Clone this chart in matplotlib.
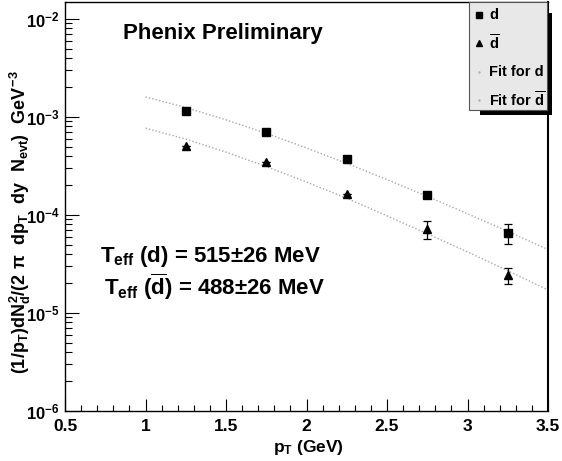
import matplotlib
matplotlib.use("Agg")
import matplotlib.pyplot as plt
from matplotlib.patches import Rectangle
from matplotlib.lines import Line2D
from matplotlib.ticker import LogLocator, NullFormatter, FixedLocator, FixedFormatter, MultipleLocator

plt.rcParams['font.family'] = ['Liberation Sans', 'DejaVu Sans']
plt.rcParams['font.weight'] = 'bold'
plt.rcParams['mathtext.fontset'] = 'custom'
plt.rcParams['mathtext.rm'] = 'Liberation Sans:bold'
plt.rcParams['mathtext.it'] = 'Liberation Sans:bold'
plt.rcParams['mathtext.bf'] = 'Liberation Sans:bold'
plt.rcParams['mathtext.sf'] = 'Liberation Sans:bold'

# ---- data ----
pt = [1.25, 1.75, 2.25, 2.75, 3.25]
d_yield = [1.15e-3, 7.0e-4, 3.73e-4, 1.60e-4, 6.55e-5]
d_err = [0, 0, 0, 0, 1.45e-5]
dbar_yield = [5.06e-4, 3.47e-4, 1.64e-4, 7.2e-5, 2.44e-5]
dbar_err = [0, 0, 0, 1.45e-5, 0.47e-5]

fit_pt = [1.0, 1.25, 1.5, 1.75, 2.0, 2.25, 2.5, 2.75, 3.0, 3.25, 3.5]
fit_d = [1.60e-3, 1.25e-3, 9.36e-4, 6.81e-4, 4.83e-4, 3.36e-4, 2.30e-4,
         1.55e-4, 1.03e-4, 6.80e-5, 4.45e-5]
fit_dbar = [7.7e-4, 5.95e-4, 4.38e-4, 3.12e-4, 2.17e-4, 1.48e-4, 9.8e-5,
            6.45e-5, 4.2e-5, 2.7e-5, 1.72e-5]

xticks = [0.5, 1, 1.5, 2, 2.5, 3, 3.5]
xticklabels = ["0.5", "1", "1.5", "2", "2.5", "3", "3.5"]
yticks = [1e-6, 1e-5, 1e-4, 1e-3, 1e-2]
yticklabels = [r"$10^{-6}$", r"$10^{-5}$", r"$10^{-4}$", r"$10^{-3}$", r"$10^{-2}$"]

legend_labels = ["d", r"$\overline{d}$", "Fit for d", r"Fit for $\overline{d}$"]

W, H = 562, 461
fig = plt.figure(figsize=(W / 100, H / 100), dpi=100)
ax = fig.add_axes([65 / W, 1 - 411 / H, (548 - 65) / W, (411 - 2) / H])

ax.plot(fit_pt, fit_d, color='#a8a8a8', lw=1.0, ls=(0, (1, 1.5)))
ax.plot(fit_pt, fit_dbar, color='#a8a8a8', lw=1.0, ls=(0, (1, 1.5)))

ax.errorbar(pt, d_yield, yerr=d_err, fmt='s', color='black', ms=5.5,
            elinewidth=0.9, capsize=2.9, capthick=0.9)
ax.errorbar(pt, dbar_yield, yerr=dbar_err, fmt='^', color='black', ms=5.5,
            elinewidth=0.9, capsize=2.9, capthick=0.9)

ax.set_yscale('log')
ax.set_xlim(0.5, 3.5)
ax.set_ylim(1e-6, 10 ** (-2 + 17 / 98))

ax.xaxis.set_major_locator(FixedLocator(xticks))
ax.xaxis.set_major_formatter(FixedFormatter(xticklabels))
ax.xaxis.set_minor_locator(MultipleLocator(0.1))
ax.yaxis.set_major_locator(FixedLocator(yticks))
ax.yaxis.set_major_formatter(FixedFormatter(yticklabels))
ax.yaxis.set_minor_locator(LogLocator(base=10, subs=range(2, 10)))
ax.yaxis.set_minor_formatter(NullFormatter())

ax.tick_params(axis='both', which='both', direction='in', top=False, right=False,
               width=0.8, color='black')
ax.tick_params(axis='x', which='major', length=8.6, labelsize=12.5, pad=6)
ax.tick_params(axis='x', which='minor', length=4.3)
ax.tick_params(axis='y', which='major', length=10, labelsize=12, pad=4)
ax.tick_params(axis='y', which='minor', length=5)
for s in ax.spines.values():
    s.set_linewidth(1.0)
ax.spines['right'].set_linewidth(1.5)

def fx(px):
    return px / W

def fy(py):
    return 1 - py / H

fig.text(fx(308), fy(452), r"$p_T$ (GeV)", ha='center', va='baseline', fontsize=12.5)
fig.text(fx(20), fy(222),
         r"$(1/p_T)dN_d^2/(2\ \pi\ \ dp_T\ \ dy\ \ N_{evt})\ \ GeV^{-3}$",
         ha='center', va='center', rotation=90, fontsize=13)

fig.text(fx(123), fy(38.5), "Phenix Preliminary", ha='left', va='baseline', fontsize=16)
fig.text(fx(100), fy(261.5), r"$T_{eff}$ (d) = 515$\pm$26 MeV", ha='left', va='baseline', fontsize=16)
fig.text(fx(104), fy(295), r"$T_{eff}$ ($\overline{d}$) = 488$\pm$26 MeV", ha='left', va='baseline', fontsize=16)

# legend box with ROOT-style shadow
tf = fig.transFigure
fig.add_artist(Rectangle((fx(547), fy(115)), (552 - 547) / W, (115 - 13) / H,
                         transform=tf, facecolor='black', edgecolor='none', zorder=5))
fig.add_artist(Rectangle((fx(480), fy(115)), (552 - 480) / W, (115 - 110) / H,
                         transform=tf, facecolor='black', edgecolor='none', zorder=5))
fig.add_artist(Rectangle((fx(469), fy(110)), (547 - 469) / W, (110 - 2) / H,
                         transform=tf, facecolor='#e8e8e8', edgecolor='#555555',
                         lw=0.8, zorder=6))
ly = [15, 43, 72, 100]
marks = ['s', '^', '.', '.']
msz = [5, 5, 1.5, 1.5]
mcol = ['black', 'black', '#b0b0b0', '#b0b0b0']
for yy, lab, mk, ms, mc in zip(ly, legend_labels, marks, msz, mcol):
    fig.add_artist(Line2D([fx(479)], [fy(yy)], marker=mk, ms=ms, color=mc,
                          transform=tf, zorder=7))
    fig.text(fx(489), fy(yy), lab, ha='left', va='center', fontsize=10.5, zorder=7)

fig.savefig("out.png", dpi=100)
